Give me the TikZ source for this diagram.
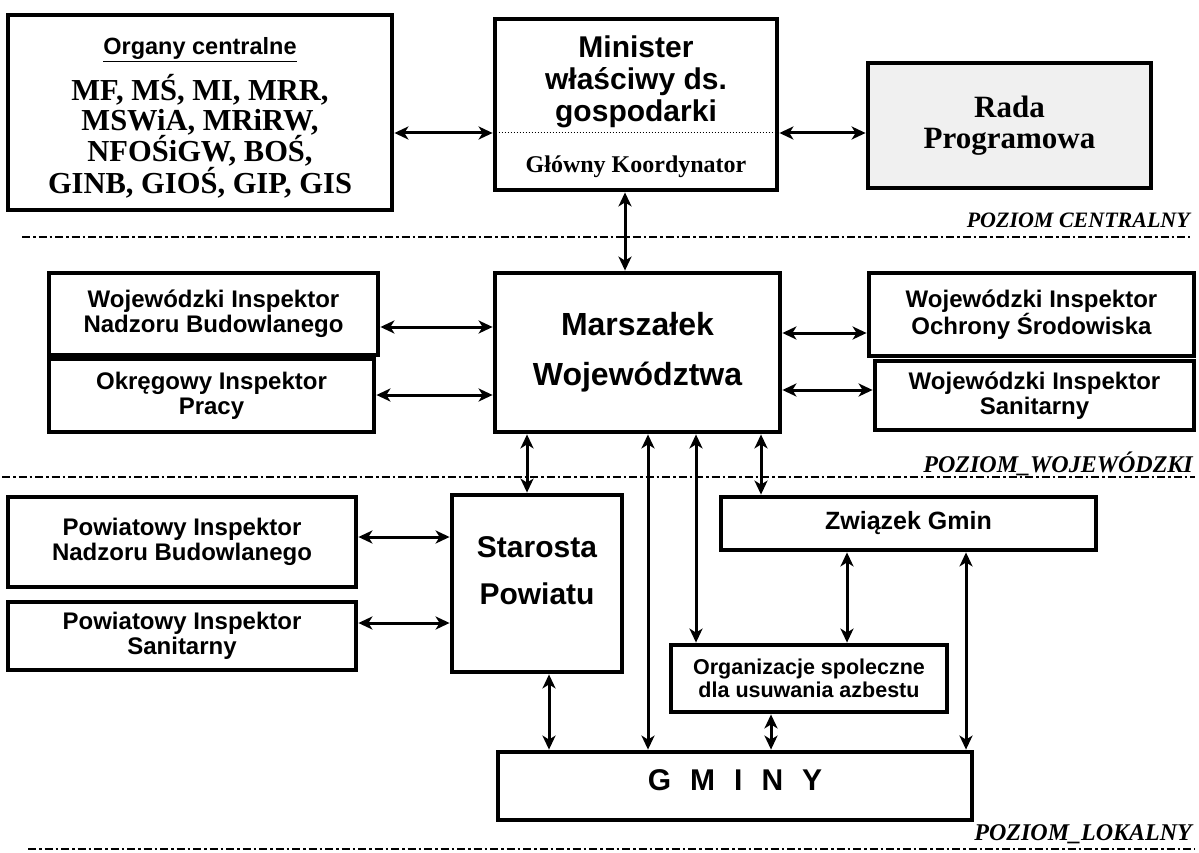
\documentclass[tikz,border=0pt]{standalone}
\usepackage{fontspec}
\setmainfont{Liberation Serif}
\newfontfamily\arialf{Liberation Sans}
\newfontfamily\timesf{Liberation Serif}
\usetikzlibrary{arrows.meta}
\newcommand{\fsz}[2]{\fontsize{#1}{#2}\selectfont}
\begin{document}
\begin{tikzpicture}[x=1pt,y=-1pt,
  box/.style={draw, line width=4.8pt, inner sep=0pt},
  ins/.style={align=center, font=\arialf\bfseries\fsz{24}{25}},
  conn/.style={line width=3pt, {Stealth[length=14pt,width=13pt,inset=4pt]}-{Stealth[length=14pt,width=13pt,inset=4pt]}},
  lvl/.style={line width=2pt, dash pattern=on 8pt off 3pt on 2.5pt off 3pt},
  lab/.style={anchor=base east, inner sep=0pt, font=\timesf\bfseries\itshape\fsz{22}{22}}]
\useasboundingbox (0,0) rectangle (1199,853);

% central level
\node[box, minimum width=384pt, minimum height=195pt] (org) at (200,112.5) {};
\node[align=center, inner sep=0pt, font=\timesf\bfseries\fsz{30.5}{29.5}] (orgt) at (200,118)
  {{\arialf\fsz{23.5}{24}\underline{Organy centralne}}\\[12pt] MF, MŚ, MI, MRR,\\ MSWiA, MRiRW,\\ NFOŚiGW, BOŚ,\\ GINB, GIOŚ, GIP, GIS};

\node[box, minimum width=282pt, minimum height=171pt] (min) at (636,104.5) {};
\node[align=center, inner sep=0pt, font=\arialf\bfseries\fsz{30}{32}] (mint) at (636,82) {Minister\\właściwy ds.\\gospodarki};
\draw[dotted, line width=1pt] (min.west |- 0,133) -- (min.east |- 0,133);
\node[anchor=base, inner sep=0pt, font=\timesf\bfseries\fsz{24}{24}] (glk) at (636,173) {Główny Koordynator};

\node[box, fill=gray!12, minimum width=283pt, minimum height=125pt, align=center, font=\timesf\bfseries\fsz{31}{31}] (rada) at (1009.5,125.5) {Rada\\Programowa};

% voivodeship level
\node[box, minimum width=285pt, minimum height=159pt, align=center, font=\arialf\bfseries\fsz{32}{50}] (mar) at (637.5,352.5) {Marszałek\\Województwa};
\node[box, ins, minimum width=329pt, minimum height=82pt] (winb) at (213.5,314) {Wojewódzki Inspektor\\Nadzoru Budowlanego};
\node[box, ins, minimum width=325pt, minimum height=73pt] (oip) at (211.5,395.5) {Okręgowy Inspektor\\Pracy};
\node[box, ins, minimum width=325pt, minimum height=83pt] (wios) at (1031.5,314.5) {Wojewódzki Inspektor\\Ochrony Środowiska};
\node[box, ins, minimum width=319pt, minimum height=69pt] (wis) at (1034.5,395.5) {Wojewódzki Inspektor\\Sanitarny};

% local level
\node[box, ins, minimum width=348pt, minimum height=90pt] (pinb) at (182,542) {Powiatowy Inspektor\\Nadzoru Budowlanego};
\node[box, ins, minimum width=348pt, minimum height=68pt] (pis) at (182,636) {Powiatowy Inspektor\\Sanitarny};
\node[box, minimum width=170pt, minimum height=177pt] (sta) at (537,583.5) {};
\node[align=center, inner sep=0pt, font=\arialf\bfseries\fsz{30}{47}] (stat) at (537,571) {Starosta\\Powiatu};
\node[box, minimum width=375pt, minimum height=53pt, font=\arialf\bfseries\fsz{25}{25}] (zg) at (908.5,523.5) {Związek Gmin};
\node[box, minimum width=276pt, minimum height=67pt, align=center, font=\arialf\bfseries\fsz{21.5}{23}] (osp) at (809,678.5) {Organizacje spoleczne\\dla usuwania azbestu};
\node[box, minimum width=474pt, minimum height=68pt] (gm) at (735,786) {};
\node[anchor=base, inner sep=0pt, font=\arialf\bfseries\fsz{30}{30}] (gmt) at (735,790) {G\hspace{19pt}M\hspace{19pt}I\hspace{19pt}N\hspace{19pt}Y};

% connectors
\draw[conn] (org.east |- 0,133) -- (min.west |- 0,133);
\draw[conn] (min.east |- 0,133) -- (rada.west |- 0,133);
\draw[conn] (min.south -| 625,0) -- (mar.north -| 625,0);
\draw[conn] (winb.east |- 0,327) -- (mar.west |- 0,327);
\draw[conn] (oip.east |- 0,395) -- (mar.west |- 0,395);
\draw[conn] (mar.east |- 0,333) -- (wios.west |- 0,333);
\draw[conn] (mar.east |- 0,390) -- (wis.west |- 0,390);
\draw[conn] (mar.south -| 527,0) -- (sta.north -| 527,0);
\draw[conn] (mar.south -| 648,0) -- (gm.north -| 648,0);
\draw[conn] (mar.south -| 696,0) -- (osp.north -| 696,0);
\draw[conn] (mar.south -| 761,0) -- (zg.north -| 761,0);
\draw[conn] (pinb.east |- 0,537) -- (sta.west |- 0,537);
\draw[conn] (pis.east |- 0,623) -- (sta.west |- 0,623);
\draw[conn] (sta.south -| 549,0) -- (gm.north -| 549,0);
\draw[conn] (zg.south -| 847,0) -- (osp.north -| 847,0);
\draw[conn] (zg.south -| 966,0) -- (gm.north -| 966,0);
\draw[conn] (osp.south -| 771,0) -- (gm.north -| 771,0);

% level separators and labels
\draw[lvl] (22,237) -- (1190,237);
\draw[lvl] (2,477) -- (1195,477);
\draw[lvl] (28,849) -- (1195,849);
\node[lab] (lc) at (1190,227) {POZIOM CENTRALNY};
\node[lab, font=\timesf\bfseries\itshape\fsz{24}{24}] (lw) at (1193,472) {POZIOM\_WOJEWÓDZKI};
\node[lab, font=\timesf\bfseries\itshape\fsz{24}{24}] (ll) at (1192,840) {POZIOM\_LOKALNY};
\end{tikzpicture}
\end{document}
